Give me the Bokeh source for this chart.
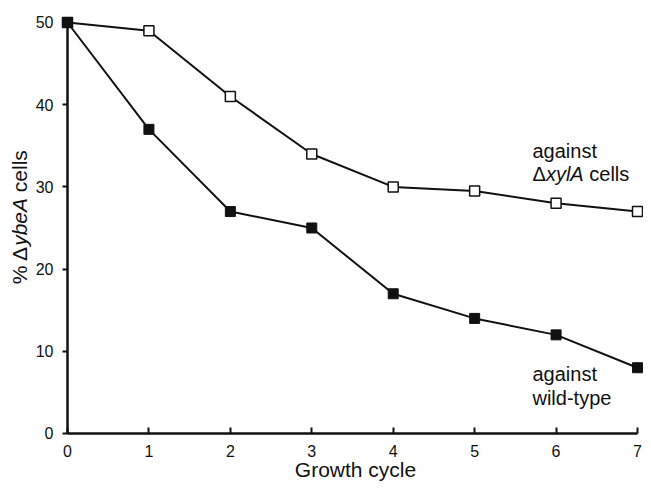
import math
from bokeh.plotting import figure
from bokeh.models import Range1d, Label, FixedTicker
from bokeh.embed import file_html
from bokeh.resources import INLINE

cycles = [0, 1, 2, 3, 4, 5, 6, 7]
against_xylA = [50, 49, 41, 34, 30, 29.5, 28, 27]
against_wt = [50, 37, 27, 25, 17, 14, 12, 8]
x_ticks = [0, 1, 2, 3, 4, 5, 6, 7]
y_ticks = [0, 10, 20, 30, 40, 50]

FONT = "Liberation Sans"
TICK_FONT = "Arial"
INK = "#111111"

p = figure(width=643, height=483, output_backend="svg", toolbar_location=None,
           x_range=Range1d(-0.8228, 7.0737), y_range=Range1d(-6.083, 52.676),
           min_border=0)
p.outline_line_color = None
p.grid.visible = False
p.background_fill_color = "white"
p.border_fill_color = "white"

for ax in (p.xaxis[0], p.yaxis[0]):
    ax.fixed_location = 0
    ax.axis_line_width = 2.5
    ax.axis_line_color = INK
    ax.major_tick_line_width = 2
    ax.major_tick_line_color = INK
    ax.minor_tick_line_color = None
    ax.major_label_text_font = TICK_FONT
    ax.major_label_text_font_size = "16px"
    ax.major_label_text_color = INK

p.xaxis[0].bounds = (0, 7)
p.xaxis[0].ticker = FixedTicker(ticks=x_ticks)
p.xaxis[0].major_tick_in = 6
p.xaxis[0].major_tick_out = 0
p.xaxis[0].major_label_standoff = 12

p.yaxis[0].bounds = (0, 50)
p.yaxis[0].ticker = FixedTicker(ticks=y_ticks)
p.yaxis[0].major_tick_in = 0
p.yaxis[0].major_tick_out = 5
p.yaxis[0].major_label_standoff = 9

p.line(cycles, against_xylA, line_color=INK, line_width=2)
p.line(cycles, against_wt, line_color=INK, line_width=2)
p.scatter(cycles, against_xylA, marker="square", size=10, fill_color="white",
          line_color=INK, line_width=1.5)
p.scatter(cycles, against_wt, marker="square", size=10, fill_color=INK,
          line_color=INK, line_width=1)

def lab(x, y, t, size="20px", style="normal", angle=0, align="left",
        baseline="alphabetic"):
    p.add_layout(Label(x=x, y=y, text=t, text_font=FONT, text_font_size=size,
                       text_font_style=style, angle=angle, text_align=align,
                       text_baseline=baseline, text_color=INK))

# y axis title: "% ΔybeA cells"
lab(-0.5895, 18.15, "% Δ", size="21px", angle=math.pi / 2, baseline="middle")
lab(-0.5895, 22.83, "ybeA", size="21px", style="italic", angle=math.pi / 2, baseline="middle")
lab(-0.5895, 29.36, "cells", size="21px", angle=math.pi / 2, baseline="middle")

# x axis title
lab(3.537, -4.38, "Growth cycle", size="21px", align="center")

# series annotations
lab(5.710, 34.375, "against")
lab(5.710, 31.61, "Δ")
lab(5.875, 31.61, "xylA", style="italic")
lab(6.408, 31.61, "cells")
lab(5.710, 7.21, "against")
lab(5.710, 4.33, "wild-type")

open("out.html", "w").write(file_html(p, INLINE))
